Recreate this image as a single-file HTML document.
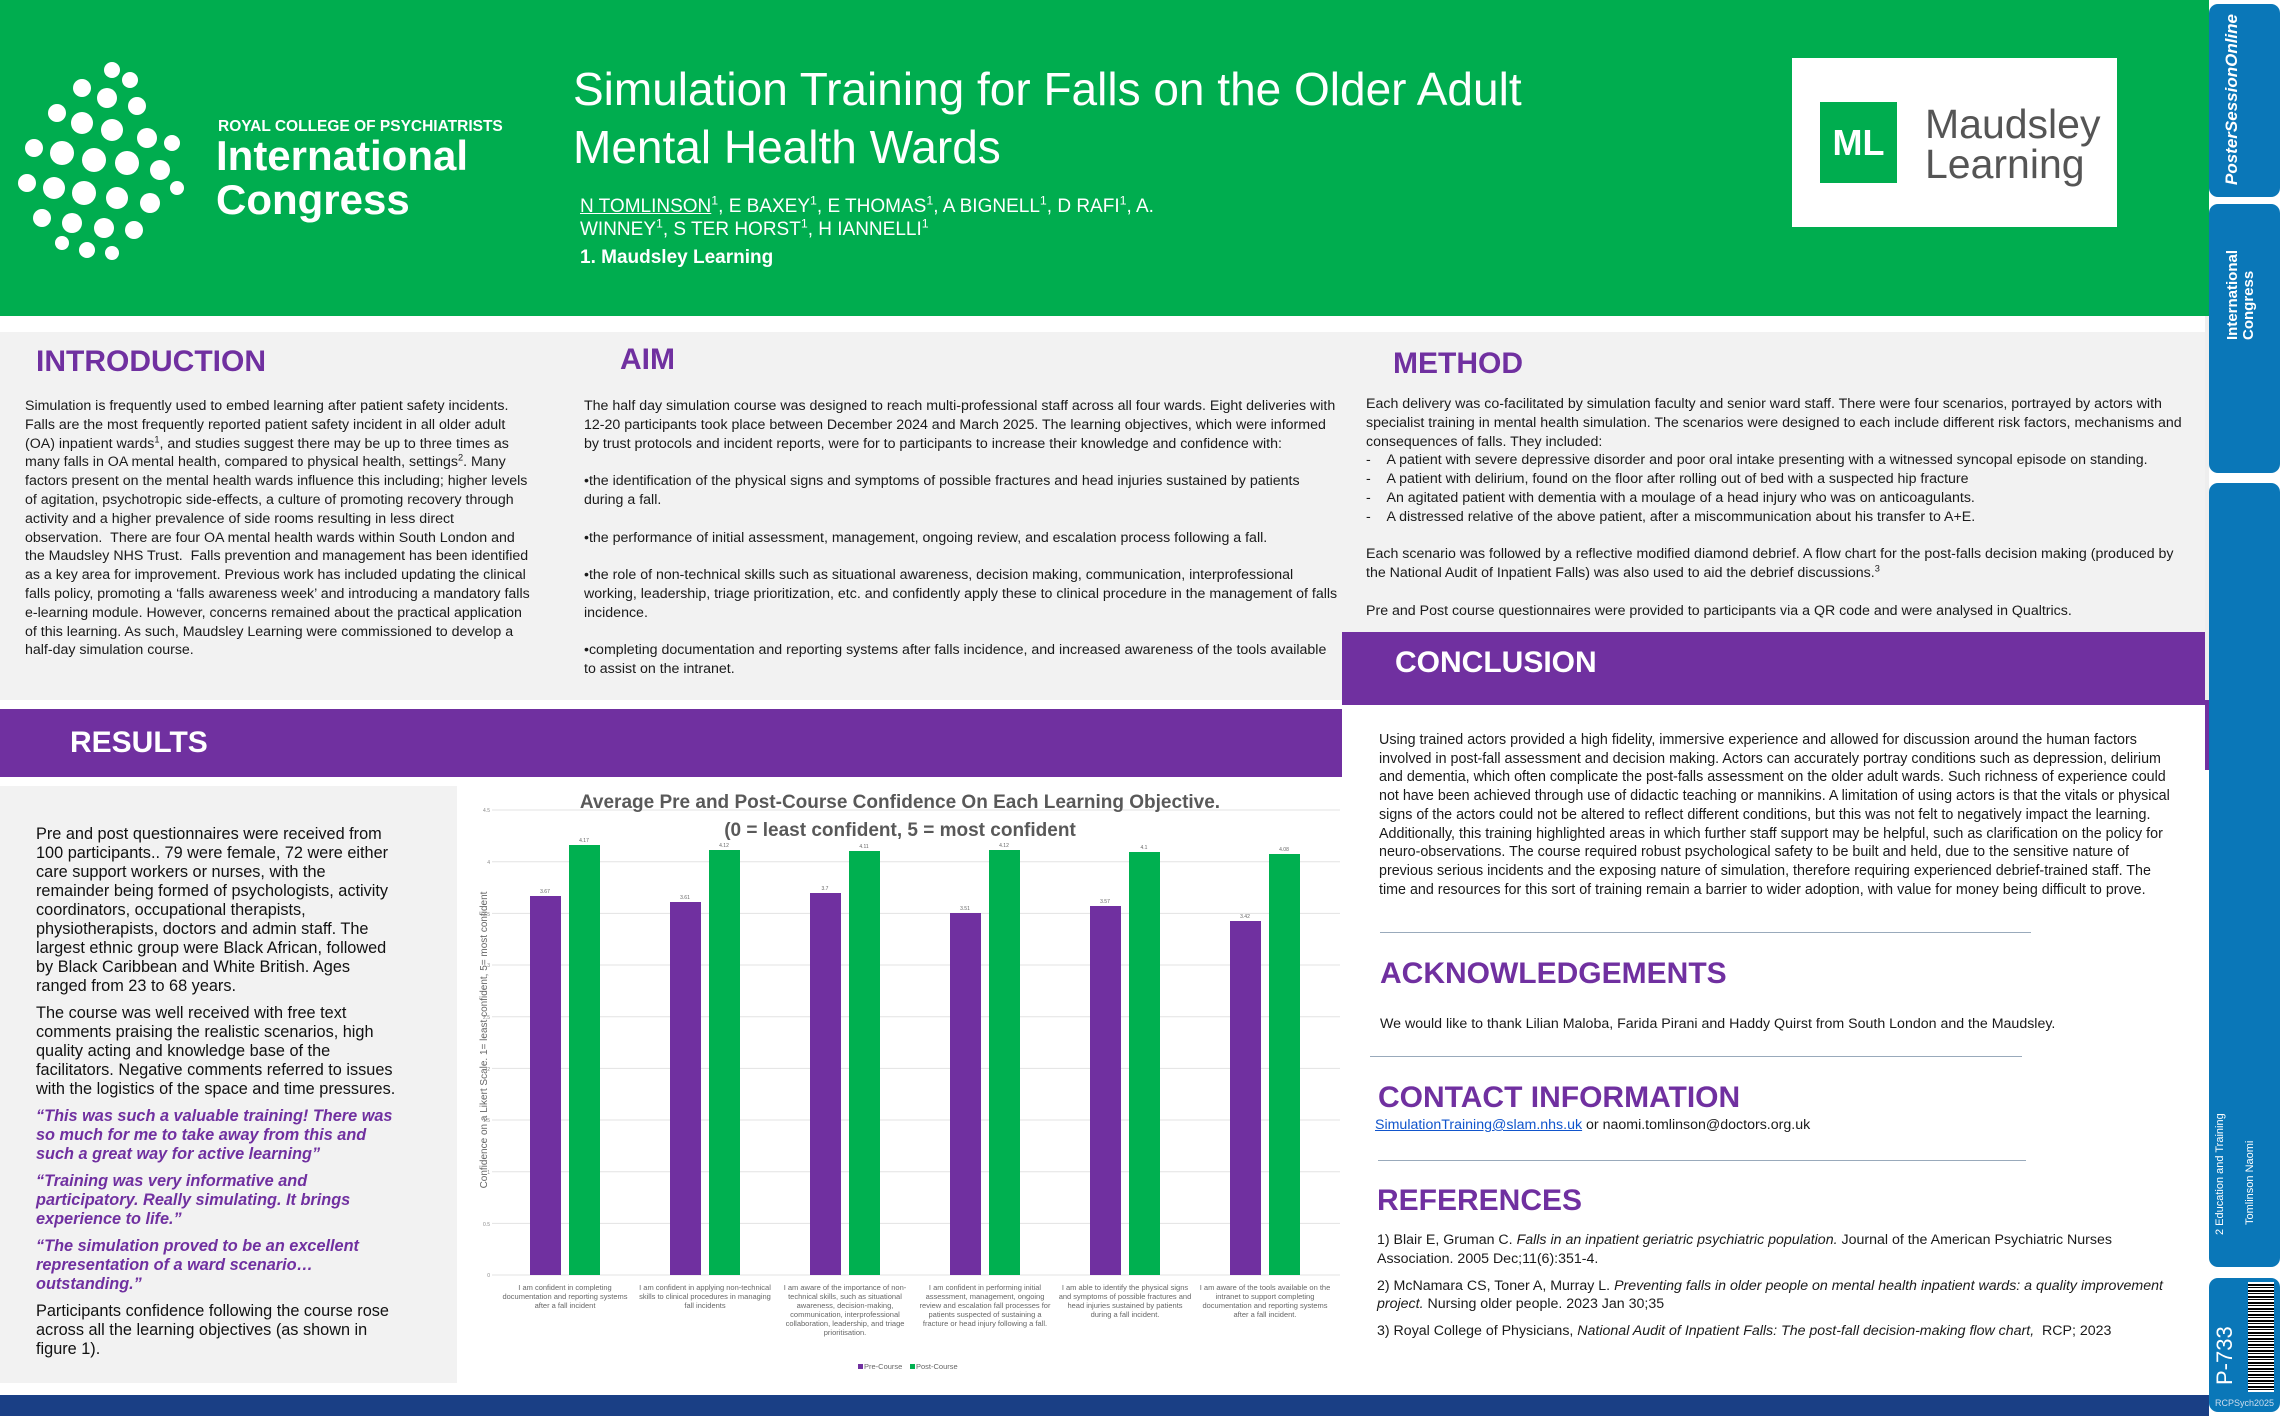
<!DOCTYPE html>
<html><head><meta charset="utf-8"><style>
*{margin:0;padding:0;box-sizing:border-box}
body{width:2283px;height:1416px;position:relative;overflow:hidden;background:#fff;font-family:"Liberation Sans",sans-serif;color:#111}
sup{line-height:0;font-size:65%}
.a{position:absolute}
.h{color:#7030a0;font-weight:bold;font-size:30px}
.t{font-size:14.2px;line-height:18.8px;color:#1a1a1a}
.t p{margin-bottom:18.8px}
.side{position:absolute;left:2209px;width:71px;background:#0a77b8;border-radius:9px}
</style></head><body>
<div class="a" style="left:0;top:0;width:2205px;height:316px;background:#00ad4f"></div>
<div class="a" style="left:0;top:316px;width:2205px;height:16px;background:#fff"></div>
<svg class="a" style="left:12px;top:58px" width="180" height="205" viewBox="0 0 180 205">
<g fill="#fff">
<circle cx="100" cy="12" r="8"/><circle cx="118" cy="22" r="8"/><circle cx="70" cy="30" r="9"/><circle cx="95" cy="40" r="10"/><circle cx="125" cy="48" r="9"/>
<circle cx="45" cy="55" r="9"/><circle cx="70" cy="65" r="11"/><circle cx="100" cy="72" r="11"/><circle cx="135" cy="80" r="10"/><circle cx="160" cy="85" r="8"/>
<circle cx="22" cy="90" r="9"/><circle cx="50" cy="95" r="12"/><circle cx="82" cy="102" r="12"/><circle cx="115" cy="105" r="12"/><circle cx="148" cy="112" r="10"/>
<circle cx="15" cy="125" r="9"/><circle cx="42" cy="130" r="11"/><circle cx="72" cy="135" r="12"/><circle cx="105" cy="140" r="11"/><circle cx="138" cy="145" r="10"/><circle cx="165" cy="130" r="7"/>
<circle cx="30" cy="160" r="9"/><circle cx="60" cy="165" r="10"/><circle cx="92" cy="170" r="10"/><circle cx="122" cy="172" r="9"/>
<circle cx="75" cy="192" r="8"/><circle cx="100" cy="195" r="7"/><circle cx="50" cy="185" r="7"/>
</g></svg>
<div class="a" style="left:218px;top:118px;color:#fff;font-size:15.5px;font-weight:bold">ROYAL COLLEGE OF PSYCHIATRISTS</div>
<div class="a" style="left:216px;top:134px;color:#fff;font-size:42px;font-weight:bold;line-height:44px">International<br>Congress</div>
<div class="a" style="left:573px;top:60px;color:#fff;font-size:46px;line-height:58px">Simulation Training for Falls on the Older Adult<br>Mental Health Wards</div>
<div class="a" style="left:580px;top:195px;color:#fff;font-size:19px;line-height:23px"><u>N TOMLINSON</u><sup>1</sup>, E BAXEY<sup>1</sup>, E THOMAS<sup>1</sup>, A BIGNELL<sup>1</sup>, D RAFI<sup>1</sup>, A.<br>WINNEY<sup>1</sup>, S TER HORST<sup>1</sup>, H IANNELLI<sup>1</sup></div>
<div class="a" style="left:580px;top:247px;color:#fff;font-size:19px;font-weight:bold">1. Maudsley Learning</div>
<div class="a" style="left:1792px;top:58px;width:325px;height:169px;background:#fff"></div>
<div class="a" style="left:1820px;top:102px;width:77px;height:81px;background:#00ad4f;color:#fff;font-size:36px;font-weight:bold;text-align:center;line-height:81px">ML</div>
<div class="a" style="left:1925px;top:104px;color:#555;font-size:41px;line-height:40px">Maudsley<br>Learning</div>

<div class="a" style="left:0;top:332px;width:1342px;height:368px;background:#f2f2f2"></div>
<div class="a" style="left:1342px;top:332px;width:863px;height:300px;background:#f2f2f2"></div>
<div class="a h" style="left:36px;top:345px">INTRODUCTION</div>
<div class="a h" style="left:620px;top:343px">AIM</div>
<div class="a h" style="left:1393px;top:347px">METHOD</div>
<div class="a t" style="left:25px;top:397px;width:505px">Simulation is frequently used to embed learning after patient safety incidents. Falls are the most frequently reported patient safety incident in all older adult (OA) inpatient wards<sup>1</sup>, and studies suggest there may be up to three times as many falls in OA mental health, compared to physical health, settings<sup>2</sup>. Many factors present on the mental health wards influence this including; higher levels of agitation, psychotropic side-effects, a culture of promoting recovery through activity and a higher prevalence of side rooms resulting in less direct observation. &nbsp;There are four OA mental health wards within South London and the Maudsley NHS Trust. &nbsp;Falls prevention and management has been identified as a key area for improvement. Previous work has included updating the clinical falls policy, promoting a ‘falls awareness week’ and introducing a mandatory falls e-learning module. However, concerns remained about the practical application of this learning. As such, Maudsley Learning were commissioned to develop a half-day simulation course.</div>
<div class="a t" style="left:584px;top:397px;width:755px">
<p>The half day simulation course was designed to reach multi-professional staff across all four wards. Eight deliveries with 12-20 participants took place between December 2024 and March 2025. The learning objectives, which were informed by trust protocols and incident reports, were for to participants to increase their knowledge and confidence with:</p>
<p>•the identification of the physical signs and symptoms of possible fractures and head injuries sustained by patients during a fall.</p>
<p>•the performance of initial assessment, management, ongoing review, and escalation process following a fall.</p>
<p>•the role of non-technical skills such as situational awareness, decision making, communication, interprofessional working, leadership, triage prioritization, etc. and confidently apply these to clinical procedure in the management of falls incidence.</p>
<p>•completing documentation and reporting systems after falls incidence, and increased awareness of the tools available to assist on the intranet.</p></div>
<div class="a t" style="left:1366px;top:395px;width:825px">
<p style="margin:0">Each delivery was co-facilitated by simulation faculty and senior ward staff. There were four scenarios, portrayed by actors with specialist training in mental health simulation. The scenarios were designed to each include different risk factors, mechanisms and consequences of falls. They included:</p>
<p style="margin:0">- &nbsp;&nbsp;&nbsp;A patient with severe depressive disorder and poor oral intake presenting with a witnessed syncopal episode on standing.<br>- &nbsp;&nbsp;&nbsp;A patient with delirium, found on the floor after rolling out of bed with a suspected hip fracture<br>- &nbsp;&nbsp;&nbsp;An agitated patient with dementia with a moulage of a head injury who was on anticoagulants.<br>- &nbsp;&nbsp;&nbsp;A distressed relative of the above patient, after a miscommunication about his transfer to A+E.</p>
<p style="margin-top:18.8px">Each scenario was followed by a reflective modified diamond debrief. A flow chart for the post-falls decision making (produced by the National Audit of Inpatient Falls) was also used to aid the debrief discussions.<sup>3</sup></p>
<p>Pre and Post course questionnaires were provided to participants via a QR code and were analysed in Qualtrics.</p></div>

<div class="a" style="left:1342px;top:632px;width:863px;height:73px;background:#7030a0"></div>
<div class="a" style="left:1395px;top:646px;color:#fff;font-size:30px;font-weight:bold">CONCLUSION</div>
<div class="a" style="left:0;top:709px;width:1342px;height:68px;background:#7030a0"></div>
<div class="a" style="left:70px;top:726px;color:#fff;font-size:30px;font-weight:bold">RESULTS</div>

<div class="a" style="left:0;top:786px;width:457px;height:597px;background:#f2f2f2"></div>
<div class="a" style="left:36px;top:825px;width:365px;font-size:16.3px;line-height:19px;color:#111">
<p style="margin-bottom:8px">Pre and post questionnaires were received from 100 participants.. 79 were female, 72 were either care support workers or nurses, with the remainder being formed of psychologists, activity coordinators, occupational therapists, physiotherapists, doctors and admin staff. The largest ethnic group were Black African, followed by Black Caribbean and White British. Ages ranged from 23 to 68 years.</p>
<p style="margin-bottom:8px">The course was well received with free text comments praising the realistic scenarios, high quality acting and knowledge base of the facilitators. Negative comments referred to issues with the logistics of the space and time pressures.</p>
<p style="margin-bottom:8px;color:#7030a0;font-weight:bold;font-style:italic">“This was such a valuable training! There was so much for me to take away from this and such a great way for active learning”</p>
<p style="margin-bottom:8px;color:#7030a0;font-weight:bold;font-style:italic">“Training was very informative and participatory. Really simulating. It brings experience to life.”</p>
<p style="margin-bottom:8px;color:#7030a0;font-weight:bold;font-style:italic">“The simulation proved to be an excellent representation of a ward scenario…outstanding.”</p>
<p>Participants confidence following the course rose across all the learning objectives (as shown in figure 1).</p></div>

<svg class="a" style="left:460px;top:780px" width="882" height="605" viewBox="460 780 882 605" font-family="Liberation Sans Narrow, Liberation Sans, sans-serif">
<g stroke="#e3e3e3" stroke-width="1">
<line x1="492" x2="1340" y1="1275" y2="1275"/><line x1="492" x2="1340" y1="1223.4" y2="1223.4"/><line x1="492" x2="1340" y1="1171.7" y2="1171.7"/><line x1="492" x2="1340" y1="1120" y2="1120"/><line x1="492" x2="1340" y1="1068.4" y2="1068.4"/><line x1="492" x2="1340" y1="1016.8" y2="1016.8"/><line x1="492" x2="1340" y1="965" y2="965"/><line x1="492" x2="1340" y1="913.4" y2="913.4"/><line x1="492" x2="1340" y1="861.8" y2="861.8"/><line x1="492" x2="1340" y1="810" y2="810"/>
</g>
<g font-size="5" fill="#888" text-anchor="end"><text x="490" y="1277">0</text><text x="490" y="1226">0.5</text><text x="490" y="1174">1</text><text x="490" y="1122">1.5</text><text x="490" y="1071">2</text><text x="490" y="1019">2.5</text><text x="490" y="967">3</text><text x="490" y="916">3.5</text><text x="490" y="864">4</text><text x="490" y="812">4.5</text></g>
<text x="900" y="808" font-size="19" font-weight="bold" fill="#595959" text-anchor="middle">Average Pre and Post-Course Confidence On Each Learning Objective.</text>
<text x="900" y="836" font-size="19" font-weight="bold" fill="#595959" text-anchor="middle">(0 = least confident, 5 = most confident</text>
<text transform="translate(487,1040) rotate(-90)" font-size="10" fill="#666" text-anchor="middle">Confidence on a Likert Scale.    1= least confident, 5= most confident</text>
<g fill="#7030a0">
<rect x="530" y="896" width="31" height="379"/><rect x="670" y="902" width="31" height="373"/><rect x="810" y="893" width="31" height="382"/><rect x="950" y="913" width="31" height="362"/><rect x="1090" y="906" width="31" height="369"/><rect x="1230" y="921" width="31" height="354"/>
</g>
<g fill="#00b050">
<rect x="569" y="845" width="31" height="430"/><rect x="709" y="850" width="31" height="425"/><rect x="849" y="851" width="31" height="424"/><rect x="989" y="850" width="31" height="425"/><rect x="1129" y="852" width="31" height="423"/><rect x="1269" y="854" width="31" height="421"/>
</g>
<g font-size="5" fill="#666" text-anchor="middle">
<text x="545" y="893">3.67</text><text x="685" y="899">3.61</text><text x="825" y="890">3.7</text><text x="965" y="910">3.51</text><text x="1105" y="903">3.57</text><text x="1245" y="918">3.42</text>
<text x="584" y="842">4.17</text><text x="724" y="847">4.12</text><text x="864" y="848">4.11</text><text x="1004" y="847">4.12</text><text x="1144" y="849">4.1</text><text x="1284" y="851">4.08</text>
</g>
<g font-size="7.5" fill="#666" text-anchor="middle">
<text x="565" y="1290">I am confident in completing</text><text x="565" y="1299">documentation and reporting systems</text><text x="565" y="1308">after a fall incident</text>
<text x="705" y="1290">I am confident in applying non-technical</text><text x="705" y="1299">skills to clinical procedures in managing</text><text x="705" y="1308">fall incidents</text>
<text x="845" y="1290">I am aware of the importance of non-</text><text x="845" y="1299">technical skills, such as situational</text><text x="845" y="1308">awareness, decision-making,</text><text x="845" y="1317">communication, interprofessional</text><text x="845" y="1326">collaboration, leadership, and triage</text><text x="845" y="1335">prioritisation.</text>
<text x="985" y="1290">I am confident in performing initial</text><text x="985" y="1299">assessment, management, ongoing</text><text x="985" y="1308">review and escalation fall processes for</text><text x="985" y="1317">patients suspected of sustaining a</text><text x="985" y="1326">fracture or head injury following a fall.</text>
<text x="1125" y="1290">I am able to identify the physical signs</text><text x="1125" y="1299">and symptoms of possible fractures and</text><text x="1125" y="1308">head injuries sustained by patients</text><text x="1125" y="1317">during a fall incident.</text>
<text x="1265" y="1290">I am aware of the tools available on the</text><text x="1265" y="1299">intranet to support completing</text><text x="1265" y="1308">documentation and reporting systems</text><text x="1265" y="1317">after a fall incident.</text>
</g>
<rect x="858" y="1364" width="5" height="5" fill="#7030a0"/><text x="864" y="1369" font-size="7.5" fill="#666">Pre-Course</text>
<rect x="910" y="1364" width="5" height="5" fill="#00b050"/><text x="916" y="1369" font-size="7.5" fill="#666">Post-Course</text>
</svg>

<div class="a t" style="left:1379px;top:731px;width:800px;font-size:14.3px;line-height:18.7px">Using trained actors provided a high fidelity, immersive experience and allowed for discussion around the human factors involved in post-fall assessment and decision making. Actors can accurately portray conditions such as depression, delirium and dementia, which often complicate the post-falls assessment on the older adult wards. Such richness of experience could not have been achieved through use of didactic teaching or mannikins. A limitation of using actors is that the vitals or physical signs of the actors could not be altered to reflect different conditions, but this was not felt to negatively impact the learning. Additionally, this training highlighted areas in which further staff support may be helpful, such as clarification on the policy for neuro-observations. The course required robust psychological safety to be built and held, due to the sensitive nature of previous serious incidents and the exposing nature of simulation, therefore requiring experienced debrief-trained staff. The time and resources for this sort of training remain a barrier to wider adoption, with value for money being difficult to prove.</div>
<div class="a" style="left:1380px;top:932px;width:651px;height:1px;background:#9ab"></div>
<div class="a h" style="left:1380px;top:957px">ACKNOWLEDGEMENTS</div>
<div class="a t" style="left:1380px;top:1015px">We would like to thank Lilian Maloba, Farida Pirani and Haddy Quirst from South London and the Maudsley.</div>
<div class="a" style="left:1370px;top:1056px;width:652px;height:1px;background:#9ab"></div>
<div class="a h" style="left:1378px;top:1081px">CONTACT INFORMATION</div>
<div class="a t" style="left:1375px;top:1116px"><u style="color:#1155cc">SimulationTraining@slam.nhs.uk</u> or naomi.tomlinson@doctors.org.uk</div>
<div class="a" style="left:1378px;top:1160px;width:648px;height:1px;background:#9ab"></div>
<div class="a h" style="left:1377px;top:1184px">REFERENCES</div>
<div class="a t" style="left:1377px;top:1231px;width:810px">
<p style="margin-bottom:8px">1) Blair E, Gruman C. <i>Falls in an inpatient geriatric psychiatric population.</i> Journal of the American Psychiatric Nurses Association. 2005 Dec;11(6):351-4.</p>
<p style="margin-bottom:8px">2) McNamara CS, Toner A, Murray L. <i>Preventing falls in older people on mental health inpatient wards: a quality improvement project.</i> Nursing older people. 2023 Jan 30;35</p>
<p>3) Royal College of Physicians, <i>National Audit of Inpatient Falls: The post-fall decision-making flow chart,</i> &nbsp;RCP; 2023</p></div>

<div class="a" style="left:0;top:1395px;width:2205px;height:21px;background:#1a3f85"></div>
<div class="a" style="left:2205px;top:0;width:4px;height:316px;background:#00ad4f"></div>
<div class="a" style="left:2205px;top:316px;width:4px;height:384px;background:#eee"></div>
<div class="a" style="left:2205px;top:700px;width:4px;height:70px;background:#7030a0"></div>
<div class="side" style="top:4px;height:193px"></div>
<div class="side" style="top:204px;height:269px"></div>
<div class="side" style="top:483px;height:784px"></div>
<div class="side" style="top:1278px;height:134px"></div>
<div class="a" style="left:2205px;top:1395px;width:4px;height:21px;background:#1a3f85"></div>
<div class="a" style="left:2222px;top:185px;transform:rotate(-90deg);transform-origin:left top;color:#fff;font-size:17px;font-weight:bold;font-style:italic;white-space:nowrap">PosterSessionOnline</div>
<div class="a" style="left:2225px;top:340px;transform:rotate(-90deg);transform-origin:left top;color:#fff;font-size:15px;font-weight:bold;white-space:nowrap;line-height:16px">International<br>Congress</div>
<div class="a" style="left:2214px;top:1235px;transform:rotate(-90deg);transform-origin:left top;color:#fff;font-size:11px;white-space:nowrap">2 Education and Training</div>
<div class="a" style="left:2244px;top:1225px;transform:rotate(-90deg);transform-origin:left top;color:#fff;font-size:11px;white-space:nowrap">Tomlinson Naomi</div>
<div class="a" style="left:2212px;top:1385px;transform:rotate(-90deg);transform-origin:left top;color:#fff;font-size:22px;white-space:nowrap">P-733</div>
<div class="a" style="left:2248px;top:1282px;width:26px;height:110px;background:repeating-linear-gradient(0deg,#fff 0 2px,#000 2px 3px,#fff 3px 4px,#000 4px 6px)"></div>
<div class="a" style="left:2215px;top:1398px;color:#cde;font-size:9px">RCPSych2025</div>
</body></html>
